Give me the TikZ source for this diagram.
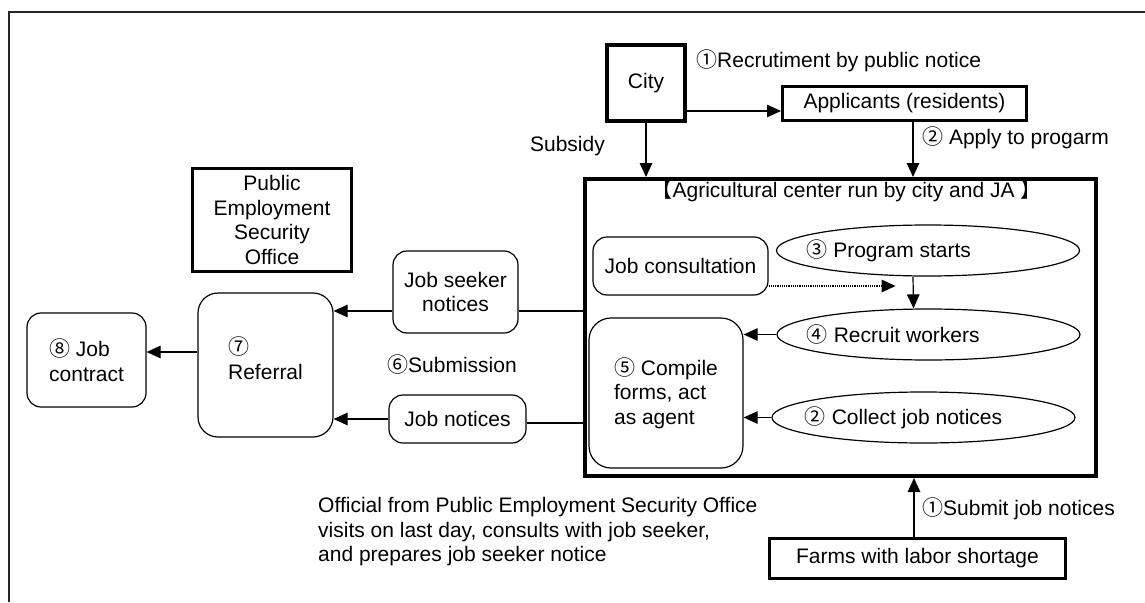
\documentclass[tikz,border=0pt]{standalone}
\usepackage{fontspec}
\setmainfont{Liberation Sans}
\newfontfamily\cjk{Noto Sans CJK JP}
\usetikzlibrary{arrows.meta, shapes.geometric}

\tikzset{
  arr/.style={-{Triangle[length=14pt,width=12.5pt]}, line width=1.2pt},
  heavybox/.style={draw, line width=#1},
  rbox/.style={draw, rounded corners=14pt, line width=1.2pt},
  oval/.style={ellipse, draw, line width=1.2pt, minimum width=303pt, minimum height=51pt, inner sep=0pt},
  txt/.style={inner sep=1pt}
}
\newcommand{\cn}[1]{{\cjk #1}}

\begin{document}
\begin{tikzpicture}[x=1pt, y=-1pt, font=\fontsize{21}{24.5}\selectfont]
  \useasboundingbox (0,0) rectangle (1145,602);
  \draw[line width=1.6pt, black!85] (9,602) -- (9,12) -- (1145,12);

  % city, applicants, farms
  \node[heavybox=4pt, minimum width=78pt, minimum height=76pt] (city) at (646,83) {City};
  \node[heavybox=3pt, minimum width=244pt, minimum height=34pt] (appl) at (904.5,103.5) {Applicants (residents)};
  \node[heavybox=3.5pt, minimum width=296pt, minimum height=40pt] (farms) at (917.5,558.5) {Farms with labor shortage};

  % the center and what goes on inside it
  \node[heavybox=4pt, minimum width=511pt, minimum height=297pt,
        label={[anchor=north, xshift=6pt, yshift=1pt]north:\cn{【}Agricultural center run by city and JA \cn{】}}] (center) at (840.5,327.5) {};
  \node[rbox, minimum width=175pt, minimum height=58pt] (consult) at (680.5,266) {Job consultation};
  \node[oval, label={[anchor=west, xshift=27pt]west:{\cn{③} Program starts}}] (start) at (928,250.5) {};
  \node[oval, label={[anchor=west, xshift=27pt]west:{\cn{④} Recruit workers}}] (recruit) at (928.5,334.5) {};
  \node[oval, label={[anchor=west, xshift=30pt]west:{\cn{②} Collect job notices}}] (collect) at (923.5,417.5) {};
  \node[rbox, rounded corners=22pt, minimum width=154pt, minimum height=150pt, align=left] (compile) at (666,393) {\cn{⑤} Compile\\forms, act\\as agent};

  % left side
  \node[heavybox=2.5pt, minimum width=159pt, minimum height=103pt, align=center] (peso) at (272,220) {Public\\Employment\\Security\\Office};
  \node[rbox, minimum width=125pt, minimum height=82pt, align=center] (seeker) at (455.5,292) {Job seeker\\notices};
  \node[rbox, minimum width=137pt, minimum height=48pt] (jobnot) at (457.5,419) {Job notices};
  \node[rbox, rounded corners=20pt, minimum width=135pt, minimum height=144pt, align=left, text depth=14pt] (referral) at (265.5,365) {\cn{⑦}\\Referral};
  \node[rbox, minimum width=119pt, minimum height=94pt, align=left] (contract) at (86.5,360) {\cn{⑧} Job\\contract};

  % labels
  \node[txt, anchor=west] (lrecr) at (695,61) {\cn{①}Recrutiment by public notice};
  \node[txt, anchor=east] (lsub) at (606,146) {Subsidy};
  \node[txt, anchor=west] (lapply) at (921,138) {\cn{②} Apply to progarm};
  \node[txt, anchor=west] (lsubmit) at (921,509) {\cn{①}Submit job notices};
  \node[txt, anchor=west] (lsubm) at (386,365) {\cn{⑥}Submission};
  \node[txt, anchor=west, align=left] (lvisit) at (317,532) {Official from Public Employment Security Office\\visits on last day, consults with job seeker,\\and prepares job seeker notice};

  % arrows
  \draw[arr] ([yshift=-28pt]city.east) -- ([yshift=-28pt]city.east -| appl.west);
  \draw[arr] (city.south) -- (city.south |- center.north);
  \draw[arr] ([xshift=8.5pt]appl.south) -- ([xshift=8.5pt]appl.south |- center.north);
  \draw[arr] ([xshift=-3.5pt]farms.north) -- ([xshift=-3.5pt]farms.north |- center.south);
  \draw[arr] ([xshift=-15pt]start.south) -- ([xshift=-15pt]recruit.north);
  \draw[arr, densely dotted] ([yshift=-20pt]consult.east) -- ++(127,0);
  \draw[arr] (recruit.west) -- (recruit.west -| compile.east);
  \draw[arr] (collect.west) -- (collect.west -| compile.east);
  \draw[line width=1.2pt] ([yshift=-19pt]seeker.east) -- ([yshift=-19pt]seeker.east -| center.west);
  \draw[arr] ([yshift=-19pt]seeker.west) -- ([yshift=-19pt]seeker.west -| referral.east);
  \draw[line width=1.2pt] ([yshift=-4pt]jobnot.east) -- ([yshift=-4pt]jobnot.east -| center.west);
  \draw[arr] (jobnot.west) -- (jobnot.west -| referral.east);
  \draw[arr] ([yshift=13pt]referral.west) -- ([yshift=13pt]referral.west -| contract.east);
\end{tikzpicture}
\end{document}
